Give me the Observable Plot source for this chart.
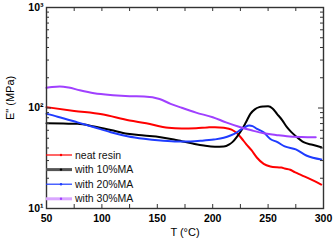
<!DOCTYPE html>
<html><head><meta charset="utf-8">
<script src="https://cdn.jsdelivr.net/npm/d3@7"></script>
<script src="https://cdn.jsdelivr.net/npm/@observablehq/plot@0.6"></script>
<style>body{margin:0;background:#fff}#chart{position:relative;width:333px;height:243px}</style>
</head><body><div id="chart"></div>
<script>
const seriesNames = ["neat resin", "with 10%MA", "with 20%MA", "with 30%MA"];
const seriesColors = ["#ff0000", "#000000", "#1f3cff", "#a040ff"];

const neatT = [50, 75, 100, 125, 140, 160, 172, 185, 195, 202, 210, 217, 222, 226, 230, 235, 240, 246, 252, 258, 262, 265, 270, 274, 280, 290, 298];
const neatE = [102, 93.5, 86.5, 75, 70.5, 63.5, 62.5, 63, 64, 64.5, 63.5, 61, 56, 50, 44, 38, 32, 27.8, 26.2, 25.7, 25.6, 25, 24.3, 23, 21.5, 19.2, 17.3];

const ma10T = [50, 65, 78, 93, 108, 123, 138, 153, 165, 172, 182, 192, 202, 210, 215, 218, 222, 226, 230, 234, 238, 242, 246, 250, 254, 258, 263, 267, 271, 275, 282, 290, 298];
const ma10E = [70.6, 70, 69.6, 65.5, 60.4, 55.3, 53.2, 51.2, 48.5, 46.7, 44.3, 42.3, 41.2, 41.4, 43.5, 46, 52, 60, 72, 87.5, 97, 102, 103.5, 104, 99, 87.5, 75, 64.4, 57.5, 52.4, 45.7, 43, 40.7];

const ma20T = [50, 60, 78, 93, 108, 123, 138, 153, 168, 180, 190, 201, 210, 216, 221, 225, 229, 233, 236, 240, 246, 252, 258, 265, 275, 285, 298];
const ma20E = [87.5, 82, 72, 64.4, 57.4, 52.4, 49.4, 47.5, 46.4, 46.5, 47.2, 48.5, 50.5, 53.2, 56.5, 60.6, 64.5, 67, 66, 62, 57.4, 49.2, 46, 41.5, 38.8, 33.5, 30.8];

const ma30T = [50, 55, 62, 70, 80, 93, 110, 125, 138, 152, 162, 172, 185, 200, 212, 223, 235, 246, 257, 267, 280, 293];
const ma30E = [159, 162, 164, 160, 150, 140, 134, 131, 130, 123, 110, 100.5, 90, 81, 72, 65.5, 60, 56, 54, 52.4, 51.5, 51.2];

const xLabelTicks = [50, 100, 150, 200, 250, 300];
const xAllTicks = [50, 75, 100, 125, 150, 175, 200, 225, 250, 275, 300];
const yMajorTicks = [10, 100, 1000];
const yMinorTicks = [20, 30, 40, 50, 60, 70, 80, 90, 200, 300, 400, 500, 600, 700, 800, 900];
const supers = {1: "\u00b9", 2: "\u00b2", 3: "\u00b3"};

const allT = [neatT, ma10T, ma20T, ma30T];
const allE = [neatE, ma10E, ma20E, ma30E];
const data = [];
seriesNames.forEach((s, i) => allT[i].forEach((t, j) => data.push({series: s, T: t, E: allE[i][j]})));

const W = 333, H = 243, mL = 46, mR = 10, mT = 7, mB = 35;
const ph = H - mT - mB, pw = W - mL - mR;
const axisColor = "#333";

const plot = Plot.plot({
  width: W, height: H, marginLeft: mL, marginRight: mR, marginTop: mT, marginBottom: mB,
  style: {fontFamily: "'Liberation Sans', Arial, sans-serif", background: "#fff", color: "#000"},
  x: {domain: [50, 300]},
  y: {type: "log", domain: [10, 1000]},
  color: {domain: seriesNames, range: seriesColors},
  marks: [
    Plot.line(data, {x: "T", y: "E", z: "series", stroke: "series", strokeWidth: 2, curve: "monotone-x"}),
    Plot.tickX(xAllTicks, {x: d => d, insetTop: ph - 4, stroke: axisColor, strokeWidth: 1}),
    Plot.tickX(xAllTicks, {x: d => d, insetBottom: ph - 4, stroke: axisColor, strokeWidth: 1}),
    Plot.tickY(yMajorTicks, {y: d => d, insetRight: pw - 5, stroke: axisColor, strokeWidth: 1}),
    Plot.tickY(yMajorTicks, {y: d => d, insetLeft: pw - 5, stroke: axisColor, strokeWidth: 1}),
    Plot.tickY(yMinorTicks, {y: d => d, insetRight: pw - 3, stroke: axisColor, strokeWidth: 1}),
    Plot.tickY(yMinorTicks, {y: d => d, insetLeft: pw - 3, stroke: axisColor, strokeWidth: 1}),
    Plot.axisX({ticks: xLabelTicks, tickSize: 0, tickPadding: 6, label: null, fontWeight: "bold", fontSize: 10.5, tickFormat: d => String(d)}),
    Plot.axisY({ticks: yMajorTicks, tickSize: 0, tickPadding: 3, label: null, fontWeight: "bold", fontSize: 10.5, tickFormat: d => "10" + supers[Math.round(Math.log10(d))]}),
    Plot.text(["T (\u00b0C)"], {frameAnchor: "bottom", dy: 27, fontSize: 11}),
    Plot.text(['E" (MPa)'], {frameAnchor: "left", dx: -36, dy: 12, rotate: -90, fontSize: 11}),
    Plot.frame({stroke: axisColor, strokeWidth: 1.4})
  ]
});
document.getElementById("chart").appendChild(plot);

const legendStyles = [
  {color: "#ff0000", width: 1.2, dot: "#ff0000"},
  {color: "#555555", width: 3, dot: "#000000"},
  {color: "#1f3cff", width: 1.2, dot: "#1f3cff"},
  {color: "#d9a6ff", width: 3, dot: "#a040ff"}
];
const svg = d3.select(plot);
const lg = svg.append("g")
  .attr("font-family", "'Liberation Sans', Arial, sans-serif")
  .attr("font-size", 10.5)
  .attr("text-anchor", "start");
seriesNames.forEach((s, i) => {
  const y = 155 + i * 14.6;
  const st = legendStyles[i];
  lg.append("line").attr("x1", 46).attr("x2", 72).attr("y1", y).attr("y2", y)
    .attr("stroke", st.color).attr("stroke-width", st.width);
  lg.append("circle").attr("cx", 61).attr("cy", y).attr("r", 1.2).attr("fill", st.dot);
  lg.append("text").attr("x", 75).attr("y", y).attr("dy", "0.35em")
    .attr("text-anchor", "start").attr("fill", "#111").text(s);
});
</script></body></html>
